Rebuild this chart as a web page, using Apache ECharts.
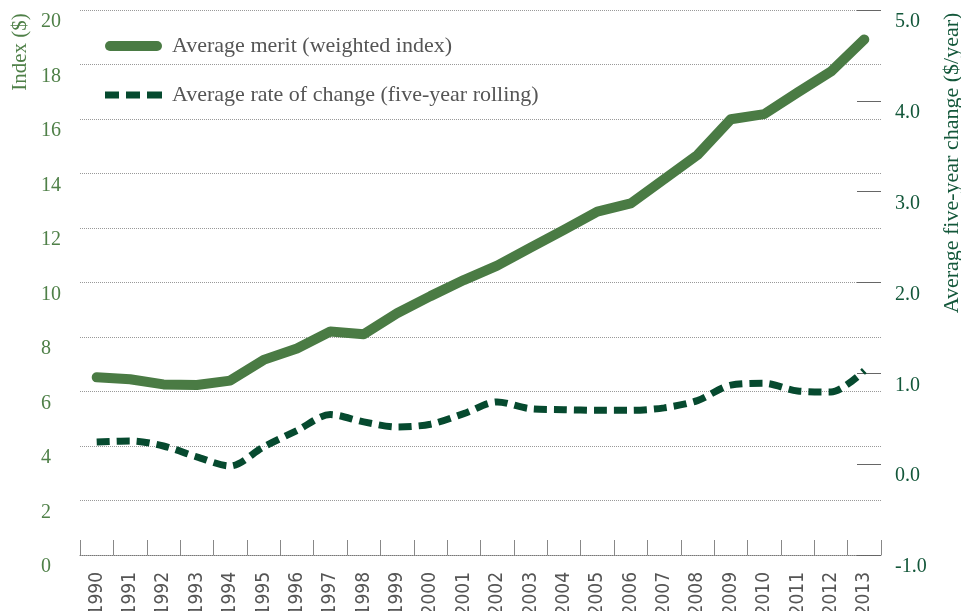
<!DOCTYPE html>
<html>
<head>
<meta charset="utf-8">
<script src="https://cdn.jsdelivr.net/npm/echarts@6/dist/echarts.min.js"></script>
<style>
html,body{margin:0;padding:0;background:#fff;}
#chart{width:961px;height:611px;}
</style>
</head>
<body>
<div id="chart"></div>
<script>
const years = ['1990','1991','1992','1993','1994','1995','1996','1997','1998','1999','2000','2001','2002','2003','2004','2005','2006','2007','2008','2009','2010','2011','2012','2013'];
const meritIndex = [6.52,6.45,6.26,6.24,6.40,7.16,7.58,8.20,8.10,8.87,9.50,10.09,10.62,11.28,11.93,12.60,12.90,13.79,14.68,15.99,16.18,16.97,17.74,18.92];
const rateOfChange = [0.245,0.256,0.20,0.08,-0.02,0.19,0.37,0.546,0.465,0.41,0.44,0.557,0.685,0.61,0.60,0.593,0.593,0.62,0.70,0.87,0.89,0.805,0.795,1.03];
const seriesNames = ['Average merit (weighted index)','Average rate of change (five-year rolling)'];
const leftTitle = 'Index ($)';
const rightTitle = 'Average five-year change ($/year)';

const SERIF = "'Liberation Serif', 'DejaVu Serif', serif";
const SANS = "'DejaVu Sans Condensed', 'Liberation Sans Narrow', 'DejaVu Sans', sans-serif";
const GREEN = '#4a7b44';
const DARK = '#064a2f';
const SOLID_ICON = 'path://M5,0 H52 A5,5 0 0 1 52,10 H5 A5,5 0 0 1 5,0 Z';
const DASH_ICON = 'path://M0,0 H14 V7 H0 Z M21,0 H35 V7 H21 Z M42,0 H57 V7 H42 Z';

const chart = echarts.init(document.getElementById('chart'), null, {renderer:'canvas'});
chart.setOption({
  animation:false,
  backgroundColor:'#fff',
  grid:{left:80,right:80,top:10,bottom:56,containLabel:false,outerBoundsMode:'none'},
  legend:{
    orient:'vertical', left:105, top:35, padding:0, itemWidth:57, itemHeight:10, itemGap:27,
    textStyle:{fontFamily:SERIF,fontSize:22,color:'#555',padding:[0,0,0,5]},
    data:[
      {name:seriesNames[0],icon:SOLID_ICON,itemStyle:{color:GREEN}},
      {name:seriesNames[1],icon:DASH_ICON,itemStyle:{color:DARK}}
    ]
  },
  xAxis:{
    type:'category', data:years, boundaryGap:true,
    axisLine:{show:true,lineStyle:{type:'dotted',color:'#777',width:1}},
    axisTick:{show:true,inside:true,length:15,interval:0,alignWithLabel:false,lineStyle:{color:'#888'}},
    axisLabel:{interval:0,rotate:90,margin:17,fontFamily:SANS,fontSize:19,color:'#555'},
    splitLine:{show:false}
  },
  yAxis:[
    {type:'value',min:0,max:20,interval:2,position:'left',
     axisLine:{show:false},axisTick:{show:false},
     splitLine:{show:true,lineStyle:{type:'dotted',color:'#999',width:1}},
     axisLabel:{align:'left',margin:39,verticalAlign:'top',padding:[2,0,0,0],fontFamily:SERIF,fontSize:20,color:'#4f8048'}},
    {type:'value',min:-1,max:5,interval:1,position:'right',
     axisLine:{show:false},
     axisTick:{show:true,inside:true,length:24,lineStyle:{color:'#666'}},
     splitLine:{show:false},
     axisLabel:{align:'left',margin:14,verticalAlign:'top',padding:[2,0,0,0],fontFamily:SERIF,fontSize:20,color:'#13573a',
       formatter:function(v){return v.toFixed(1);}}}
  ],
  series:[
    {name:seriesNames[0],type:'line',yAxisIndex:0,data:meritIndex,symbol:'none',
     lineStyle:{width:10,color:GREEN,cap:'round',join:'round'},itemStyle:{color:GREEN}},
    {name:seriesNames[1],type:'line',yAxisIndex:1,data:rateOfChange,symbol:'none',smooth:0.3,
     lineStyle:{width:7,color:DARK,type:[13,7]},itemStyle:{color:DARK}}
  ],
  graphic:[
    {type:'text',x:20,y:52,rotation:Math.PI/2,
     style:{text:leftTitle,fill:'#4f8048',font:"21px 'Liberation Serif', serif",textAlign:'center',textVerticalAlign:'middle'}},
    {type:'text',x:952,y:163,rotation:Math.PI/2,
     style:{text:rightTitle,fill:'#13573a',font:"22px 'Liberation Serif', serif",textAlign:'center',textVerticalAlign:'middle'}}
  ]
});
</script>
</body>
</html>
